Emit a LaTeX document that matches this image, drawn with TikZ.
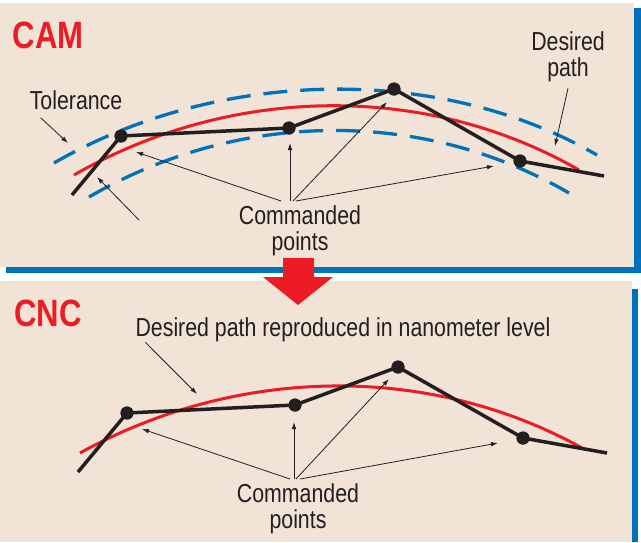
\documentclass[tikz,border=0pt]{standalone}
\usepackage{fontspec}
\setmainfont{Liberation Sans}[FakeStretch=0.82]
\usetikzlibrary{arrows.meta,calc}
\definecolor{panelbg}{RGB}{241,227,213}
\definecolor{camred}{RGB}{237,28,36}
\definecolor{camblue}{RGB}{0,114,188}
\definecolor{inkblack}{RGB}{35,31,32}

\begin{document}
\begin{tikzpicture}[
        x=1pt, y=-1pt,
        font=\fontsize{26}{26}\selectfont,
        txt/.style={text=inkblack, align=center, inner sep=0pt},
        heading/.style={text=camred, font=\fontsize{38}{38}\selectfont\bfseries, inner sep=0pt},
        cmdpt/.style={circle, fill=inkblack, minimum size=13pt, inner sep=0pt},
        poly/.style={draw=inkblack, line width=3.5pt},
        desired/.style={draw=camred, line width=3pt},
        tolband/.style={draw=camblue, line width=3.3pt, dash pattern=on 24pt off 13pt},
        pointer/.style={-{Latex[length=7pt,width=4.5pt]}, draw=inkblack, line width=0.8pt},
        panelshadow/.style={fill=camblue},
        panel/.style={fill=panelbg}
    ]
        \useasboundingbox (0,0) rectangle (641,542);

        % panels
        \fill[panelshadow] (6,8) rectangle (641,273);
        \fill[panel] (0,3) rectangle (634,267);
        \fill[panelshadow] (6,289) rectangle (638,542);
        \fill[panel] (0,281) rectangle (632,542);
        \fill[camred] (283,258) -- (314,258) -- (314,277) -- (333,277) -- (298,305)
            -- (263,277) -- (283,277) -- cycle;

        % CAM
        \node[heading] (cam) at (48,35) {CAM};
        \draw[tolband] (54,163) .. controls (215,70) and (436,62) .. (597,155);
        \draw[tolband] (89,197) .. controls (237,111) and (421,107) .. (569,193);
        \draw[desired] (74,175) .. controls (229,86) and (424,81) .. (579,170);

        \coordinate (a0) at (72,195);
        \coordinate (a5) at (604,176);
        \node[cmdpt] (a1) at (121,136) {};
        \node[cmdpt] (a2) at (289,128) {};
        \node[cmdpt] (a3) at (394,89) {};
        \node[cmdpt] (a4) at (520,161) {};
        \draw[poly] (a0) -- (a1.center) -- (a2.center) -- (a3.center) -- (a4.center) -- (a5);
        \foreach \p in {a1,a2,a3,a4} \node[cmdpt] at (\p) {};

        \node[txt] (tol) at (76,100) {Tolerance};
        \coordinate (tolA) at (68,143);
        \coordinate (tolB0) at (139,220);
        \coordinate (tolB) at (97,177);
        \draw[pointer] ([xshift=11pt,yshift=-8pt]tol.south west) -- (tolA);
        \draw[pointer] (tolB0) -- (tolB);

        \node[txt] (dpA) at (568,57) {Desired\\path};
        \coordinate (dpAtip) at (555,146);
        \draw[pointer] ([yshift=-6pt]dpA.south) -- (dpAtip);

        \node[txt, inner ysep=4pt, anchor=north] (cmdA) at (300,201) {Commanded\\points};
        \coordinate (tA1) at (136,152);
        \coordinate (tA2) at (290,143);
        \coordinate (tA3) at (387,102);
        \coordinate (tA4) at (494,166);
        \draw[pointer] ([xshift=-19pt]cmdA.north) -- (tA1);
        \draw[pointer] ([xshift=-10pt]cmdA.north) -- (tA2);
        \draw[pointer] ([xshift=-7pt]cmdA.north) -- (tA3);
        \draw[pointer] ([xshift=-4pt]cmdA.north) -- (tA4);

        % CNC
        \node[heading] (cnc) at (48,313) {CNC};
        \draw[desired] (80,453) .. controls (235,367) and (427,362) .. (582,448);

        \coordinate (b0) at (78,472);
        \coordinate (b5) at (607,453);
        \node[cmdpt] (b1) at (127,413) {};
        \node[cmdpt] (b2) at (295,405) {};
        \node[cmdpt] (b3) at (398,367) {};
        \node[cmdpt] (b4) at (523,438) {};
        \draw[poly] (b0) -- (b1.center) -- (b2.center) -- (b3.center) -- (b4.center) -- (b5);
        \foreach \p in {b1,b2,b3,b4} \node[cmdpt] at (\p) {};

        \node[txt] (dpB) at (343,330) {Desired path reproduced in nanometer level};
        \coordinate (dpBtip) at (197,394);
        \draw[pointer] ([xshift=10pt]dpB.south west) -- (dpBtip);

        \node[txt, inner ysep=4pt, anchor=north] (cmdB) at (298,479) {Commanded\\points};
        \coordinate (tB1) at (142,429);
        \coordinate (tB2) at (294,422);
        \coordinate (tB3) at (389,379);
        \coordinate (tB4) at (498,443);
        \draw[pointer] ([xshift=-8pt]cmdB.north) -- (tB1);
        \draw[pointer] ([xshift=-4pt]cmdB.north) -- (tB2);
        \draw[pointer] ([xshift=-2pt]cmdB.north) -- (tB3);
        \draw[pointer] ([xshift=2pt]cmdB.north) -- (tB4);
    \end{tikzpicture}
\end{document}
